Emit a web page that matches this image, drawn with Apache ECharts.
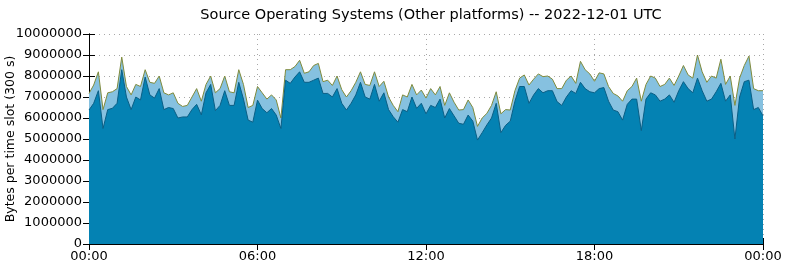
<!DOCTYPE html>
<html>
<head>
<meta charset="utf-8">
<title>Source Operating Systems</title>
<script src="https://cdn.jsdelivr.net/npm/echarts@6/dist/echarts.min.js"></script>
<style>
  html, body { margin: 0; padding: 0; background: #fff; }
  #chart { width: 785px; height: 268px; }
</style>
</head>
<body>
<div id="chart"></div>
<script>
// one value every 10 minutes, 00:00 .. 24:00, in millions of bytes
var SLOT_MIN = 10;
var UNIT = 1000000;

// total of both series (upper edge, light blue)
var totalValues = [
  7.17, 7.57, 8.2, 6.4, 7.2, 7.25, 7.4, 8.9, 7.5, 7.1, 7.6, 7.5, 8.3, 7.7, 7.65, 8.0, 7.2, 7.1, 7.2, 6.7, 6.55, 6.6, 7.0, 7.4, 6.8,
  7.6, 8.0, 7.2, 7.4, 8.0, 7.25, 7.2, 8.3, 7.6, 6.5, 6.6, 7.5, 7.2, 6.9, 7.1, 6.86, 6.0, 8.3, 8.3, 8.45, 8.75, 8.13, 8.2, 8.5,
  8.6, 7.73, 7.8, 7.55, 8.0, 7.35, 7.0, 7.3, 7.7, 8.2, 7.6, 7.55, 8.2, 7.5, 7.75, 7.0, 6.6, 6.3, 7.1, 7.0, 7.6, 7.1, 7.33, 6.95,
  7.4, 7.1, 7.5, 6.6, 7.2, 6.75, 6.38, 6.4, 6.86, 6.5, 5.6, 6.0, 6.22, 6.6, 7.25, 6.2, 6.4, 6.38, 7.3, 7.9, 8.05, 7.57, 7.85, 8.1,
  7.97, 8.0, 7.85, 7.4, 7.4, 7.8, 8.0, 7.65, 8.7, 8.3, 8.1, 7.75, 8.15, 8.1, 7.5, 7.17, 7.05, 6.8, 7.3, 7.5, 7.9, 6.8, 7.6, 8.0,
  7.9, 7.5, 7.6, 7.9, 7.55, 8.0, 8.5, 8.05, 7.9, 9.0, 8.2, 7.7, 8.0, 7.9, 8.8, 7.6, 8.0, 6.6, 7.9, 8.5, 8.95, 7.4, 7.3, 7.3
];

// lower series (dark blue)
var darkValues = [
  6.38, 6.7, 7.3, 5.5, 6.4, 6.46, 6.7, 8.3, 7.0, 6.4, 7.0, 6.86, 7.95, 7.1, 6.95, 7.4, 6.4, 6.5, 6.45, 6.0, 6.05, 6.05, 6.4, 6.65, 6.15,
  7.2, 7.6, 6.35, 6.6, 7.3, 6.6, 6.6, 7.7, 6.9, 5.9, 5.8, 6.85, 6.45, 6.25, 6.45, 6.14, 5.5, 7.8, 7.65, 7.95, 8.2, 7.7, 7.7, 7.8,
  7.9, 7.17, 7.17, 7.0, 7.4, 6.7, 6.38, 6.7, 7.1, 7.7, 7.0, 6.9, 7.6, 6.8, 7.2, 6.4, 6.06, 5.8, 6.4, 6.3, 7.0, 6.46, 6.7, 6.2,
  6.6, 6.5, 6.9, 6.0, 6.45, 6.1, 5.75, 5.7, 6.14, 5.85, 4.95, 5.3, 5.67, 6.0, 6.7, 5.3, 5.65, 5.85, 6.8, 7.5, 7.5, 6.7, 7.1, 7.4,
  7.2, 7.3, 7.3, 6.78, 6.6, 7.0, 7.3, 7.17, 7.7, 7.4, 7.25, 7.2, 7.4, 7.45, 6.8, 6.38, 6.3, 5.9, 6.65, 6.9, 6.9, 5.4, 6.9, 7.2,
  7.1, 6.8, 6.9, 7.1, 6.75, 7.3, 7.73, 7.4, 7.2, 7.9, 7.3, 6.8, 6.9, 7.25, 7.65, 6.8, 7.1, 5.0, 7.0, 7.73, 7.8, 6.4, 6.5, 6.1
];

var xTickLabels = ['00:00', '06:00', '12:00', '18:00', '00:00'];

function pairs(vals) {
  var out = [];
  for (var i = 0; i < vals.length; i++) {
    out.push([i * SLOT_MIN, vals[i] * UNIT]);
  }
  return out;
}

var chart = echarts.init(document.getElementById('chart'));
var font = 'DejaVu Sans';
var gridLine = { show: true, lineStyle: { color: '#a8a8a8', type: [1, 4], width: 1 } };

var option = {
  animation: false,
  textStyle: { fontFamily: font },
  title: {
    text: 'Source Operating Systems (Other platforms) -- 2022-12-01 UTC',
    left: 426, top: 3, textAlign: 'center',
    textStyle: { fontFamily: font, fontSize: 14.5, fontWeight: 'normal', color: '#000' }
  },
  grid: { left: 89, right: 22, top: 34, bottom: 24, containLabel: false, outerBoundsMode: 'none' },
  xAxis: [{
    type: 'value', min: 0, max: 1440, interval: 360,
    axisLine: { lineStyle: { color: '#000' } },
    axisTick: { inside: true, length: 6, lineStyle: { color: '#000' } },
    axisLabel: {
      color: '#000', fontSize: 13, margin: 6,
      formatter: function (v) { return xTickLabels[v / 360]; }
    },
    splitLine: gridLine
  }, {
    type: 'value', min: 0, max: 1440, interval: 360, position: 'top',
    axisLine: { show: true, lineStyle: { color: '#000' } },
    axisTick: { show: true, inside: true, length: 6, lineStyle: { color: '#000' } },
    axisLabel: { show: false }, splitLine: { show: false }
  }],
  yAxis: [{
    type: 'value', min: 0, max: 10000000, interval: 1000000,
    name: 'Bytes per time slot (300 s)', nameLocation: 'middle', nameGap: 72,
    nameMoveOverlap: false,
    nameTextStyle: { color: '#000', fontSize: 12.5, fontFamily: font },
    axisLine: { show: true, lineStyle: { color: '#000' } },
    axisTick: { show: true, inside: true, length: 6, lineStyle: { color: '#000' } },
    axisLabel: { color: '#000', fontSize: 13, margin: 7, formatter: function (v) { return String(v); } },
    splitLine: gridLine
  }, {
    type: 'value', min: 0, max: 10000000, interval: 1000000, position: 'right',
    axisLine: { show: true, lineStyle: { color: '#000' } },
    axisTick: { show: true, inside: true, length: 6, lineStyle: { color: '#000' } },
    axisLabel: { show: false }, splitLine: { show: false }
  }],
  series: [{
    name: 'total', type: 'line', data: pairs(totalValues),
    symbol: 'none', z: 2,
    lineStyle: { color: '#7f8a3c', width: 1 },
    areaStyle: { color: '#86c1e0', opacity: 1 }
  }, {
    name: 'dark', type: 'line', data: pairs(darkValues),
    symbol: 'none', z: 3,
    lineStyle: { color: '#0a5f86', width: 1 },
    areaStyle: { color: '#0482b3', opacity: 1 }
  }]
};
chart.setOption(option);
</script>
</body>
</html>
